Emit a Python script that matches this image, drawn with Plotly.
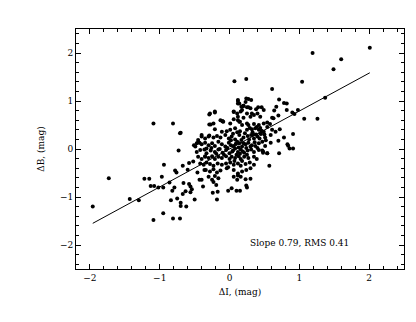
import plotly.graph_objects as go

# sparse points (left wing)
left_i = [-1.96, -1.73, -1.43, -1.30, -1.22, -1.15, -1.09, -1.09, -1.13, -1.08, -1.02, -0.95,
          -0.95, -0.97, -0.94, -0.86, -0.84, -0.81, -0.81, -0.82, -0.79, -0.78, -0.76, -0.75,
          -0.73, -0.71, -0.70, -0.71, -0.70, -0.70, -0.67, -0.66, -0.67, -0.62, -0.63, -0.60,
          -0.58, -0.58, -0.56, -0.56, -0.54, -0.50, -0.52, -0.51, -0.49, -0.47, -0.45, -0.46,
          -0.43, -0.40, -0.38, -0.36, -0.35, -0.33, -0.29, -0.27, -0.29, -0.24, -0.23, -0.21,
          -0.19, -0.18, -0.17, -0.10, -0.02, 0.03, 0.07, 0.06, 0.10, 0.15, 0.12]
left_b = [-1.20, -0.61, -1.04, -1.07, -0.62, -0.62, 0.53, -1.48, -0.77, -0.77, -0.80, -1.34,
          -0.80, -0.58, -0.33, -0.70, -1.07, 0.53, -1.45, -0.87, -0.80, -0.45, -0.49, -1.03,
          -0.03, 0.33, 0.34, -1.45, -1.19, -1.12, -0.94, -0.71, -0.35, -1.20, -0.88, -0.43,
          -0.29, -0.73, -0.78, -0.90, -0.84, -1.05, -0.26, 0.08, 0.05, 0.12, 0.14, -0.49,
          -0.64, -0.64, -0.78, -0.44, -0.16, 0.01, 0.72, 0.51, 0.28, -0.91, -0.69, 0.76,
          -0.75, -1.05, -0.89, 0.58, -0.87, -0.82, 1.41, 0.77, -0.87, -0.87, -0.55]

# sparse points (upper / right wing)
right_i = [0.24, 0.24, 0.25, 0.30, 0.24, 0.27, 0.31, 0.23, 0.12, 0.12, 0.61, 0.71, 0.78, 0.82,
           0.67, 0.82, 0.93, 0.90, 0.98, 1.04, 1.07, 1.19, 1.26, 1.37, 1.49, 1.60, 2.01, 0.91,
           0.78, 0.83, 0.84, 0.86, 0.91, 0.71, 0.70, 0.57, 0.54, 0.48, 0.66, 0.61, 0.59, 0.63,
           0.61, 0.64, 0.70, 0.72, 0.49, 0.46, 0.41, 0.38, 0.40, 0.44, 0.35, 0.32, 0.27, 0.19,
           0.16, 0.20, 0.12, 0.14, 0.20, 0.17, 0.25, 0.30, -0.21, -0.28, 0.06, 0.11, 0.18, 0.25,
           0.30, -0.13, -0.09, -0.23, 0.06, 0.12, 0.15, 0.18, 0.25, 0.27]
right_b = [1.46, -0.76, -0.80, -0.62, 1.05, 1.04, 1.02, 0.98, 1.02, 0.95, 1.25, 1.03, 0.96, 0.95,
           0.88, 0.81, 0.73, 0.76, 0.81, 1.40, 0.63, 2.00, 0.63, 1.07, 1.66, 1.87, 2.11, 0.31,
           0.24, 0.10, 0.07, 0.01, 0.01, -0.09, 0.17, -0.35, -0.09, -0.05, 0.36, 0.40, 0.29, 0.64,
           0.65, 0.80, 0.70, 0.41, 0.81, 0.87, 0.87, 0.83, 0.74, 0.67, 0.71, 0.74, 0.87, 0.89,
           0.78, 0.90, 1.00, 0.95, 0.90, 0.88, 0.87, 0.85, 0.78, 0.74, 0.78, 0.74, 0.81, 0.74,
           0.67, 0.60, 0.57, 0.53, 0.62, 0.60, 0.57, 0.50, 0.53, 0.50]

# dense core
core_i = [-0.29, -0.10, 0.14, 0.12, 0.20, 0.01, 0.35, 0.42, 0.49, 0.54, 0.58,
          -0.40, -0.21, -0.11, -0.04, 0.01, 0.08, 0.15, 0.25, 0.32, 0.37, 0.39, 0.42, 0.44, 0.49, 0.54,
          -0.45, -0.40, -0.35, -0.30, -0.23, -0.18, -0.13, -0.06, -0.01, 0.03, 0.08, 0.14, 0.20, 0.26,
          0.31, 0.35, 0.40, 0.45, 0.51,
          -0.43, -0.40, -0.35, -0.30, -0.25, -0.21, -0.16, -0.11, -0.06, -0.01, 0.02, 0.06, 0.11, 0.14,
          0.18, 0.23, 0.27, 0.32, 0.37, 0.42, 0.47, 0.51, 0.59,
          -0.47, -0.42, -0.36, -0.33, -0.27, -0.21, -0.16, -0.10, -0.05, 0.00, 0.05, 0.08, 0.12, 0.16,
          0.21, 0.26, 0.31, 0.35, 0.42, 0.48, 0.54,
          -0.45, -0.40, -0.35, -0.30, -0.25, -0.21, -0.16, -0.11, -0.05, 0.00, 0.03, 0.08, 0.13, 0.16,
          0.21, 0.27, 0.35, 0.39,
          -0.42, -0.37, -0.33, -0.28, -0.23, -0.17, -0.11, -0.05, 0.01, 0.06, 0.12, 0.16, 0.23, 0.29, 0.35,
          -0.34, -0.28, -0.23, -0.18, -0.13, -0.04, 0.06, 0.12, 0.18, 0.24, 0.30,
          -0.30, -0.25, -0.21, -0.16, 0.06, 0.11, 0.16, 0.23,
          0.02, 0.05, 0.09, 0.10, 0.13, 0.17, 0.19, 0.22, 0.24, 0.28, 0.30, 0.33, 0.36, 0.38, 0.40,
          0.43, 0.46, 0.47, 0.50, 0.52, 0.07, 0.15, 0.20, 0.25, 0.04, -0.03, -0.08, -0.14, -0.19,
          -0.26, 0.29, 0.34, 0.44, 0.11, -0.02, 0.18]
core_b = [0.51, 0.58, 0.57, 0.67, 0.65, 0.53, 0.52, 0.50, 0.53, 0.55, 0.52,
          0.29, 0.41, 0.36, 0.37, 0.40, 0.43, 0.37, 0.40, 0.41, 0.43, 0.46, 0.40, 0.44, 0.36, 0.46,
          0.19, 0.26, 0.22, 0.26, 0.24, 0.27, 0.24, 0.29, 0.22, 0.26, 0.20, 0.29, 0.24, 0.27,
          0.29, 0.22, 0.26, 0.31, 0.24,
          0.13, 0.10, 0.13, 0.08, 0.12, 0.06, 0.15, 0.10, 0.05, 0.13, 0.08, 0.06, 0.15, 0.12,
          0.05, 0.10, 0.13, 0.08, 0.06, 0.12, 0.15, 0.06, 0.13,
          -0.06, -0.02, -0.01, -0.09, -0.03, -0.06, -0.01, -0.08, -0.02, -0.09, -0.03, 0.01, -0.06, -0.01,
          -0.08, -0.03, -0.01, -0.06, -0.02, -0.08, -0.09,
          -0.16, -0.21, -0.15, -0.19, -0.15, -0.21, -0.16, -0.19, -0.15, -0.21, -0.16, -0.19, -0.15, -0.21,
          -0.16, -0.19, -0.16, -0.21,
          -0.30, -0.33, -0.28, -0.31, -0.35, -0.30, -0.33, -0.30, -0.28, -0.33, -0.30, -0.35, -0.31, -0.28, -0.33,
          -0.44, -0.47, -0.42, -0.49, -0.45, -0.40, -0.44, -0.51, -0.47, -0.44, -0.40,
          -0.58, -0.64, -0.56, -0.61, -0.58, -0.64, -0.58, -0.63,
          0.18, 0.32, 0.11, -0.12, 0.03, 0.19, -0.05, 0.33, 0.02, 0.20, 0.05, 0.35, 0.14, 0.30, 0.02,
          0.22, 0.38, -0.03, 0.30, 0.18, -0.25, -0.10, 0.12, -0.12, -0.05, 0.02, -0.12, 0.00, -0.10,
          0.02, 0.44, 0.30, 0.33, 0.35, -0.38, -0.25]

slope = 0.79
intercept = 0.0
rms = 0.41

delta_i = left_i + right_i + core_i
delta_b = left_b + right_b + core_b

fit_x = [min(delta_i), max(delta_i)]
fit_y = [slope * v + intercept for v in fit_x]

font = "DejaVu Serif"

fig = go.Figure()
fig.add_trace(go.Scatter(x=delta_i, y=delta_b, mode="markers",
                         marker=dict(size=4, color="black"), showlegend=False))
fig.add_trace(go.Scatter(x=fit_x, y=fit_y, mode="lines",
                         line=dict(color="black", width=1), showlegend=False))

fig.add_annotation(x=1.0, y=-1.95, xref="x", yref="y", showarrow=False,
                   text=f"Slope {slope:.2f}, RMS {rms:.2f}",
                   font=dict(family=font, size=9, color="black"))

axis_common = dict(
    showgrid=False, zeroline=False, showline=True, linecolor="black", linewidth=1,
    mirror="allticks", ticks="inside", ticklen=5, tickcolor="black", tickwidth=1,
    tickfont=dict(family=font, size=9, color="black"),
    minor=dict(ticks="inside", ticklen=3, dtick=0.2, tick0=0, tickcolor="black"),
)

fig.update_xaxes(range=[-2.2, 2.5], tickvals=[-2, -1, 0, 1, 2], ticktext=["\u22122", "\u22121", "0", "1", "2"],
                 title=dict(text="\u0394I, (mag)", font=dict(family=font, size=9, color="black"), standoff=6),
                 **axis_common)
fig.update_yaxes(range=[-2.5, 2.5], tickvals=[-2, -1, 0, 1, 2], ticktext=["\u22122", "\u22121", "0", "1", "2"],
                 title=dict(text="\u0394B, (mag)", font=dict(family=font, size=9, color="black"), standoff=13),
                 **axis_common)

fig.update_layout(
    width=400, height=306,
    margin=dict(l=68, r=4, t=21, b=45),
    plot_bgcolor="white", paper_bgcolor="white",
)

fig.write_html("out.html")
